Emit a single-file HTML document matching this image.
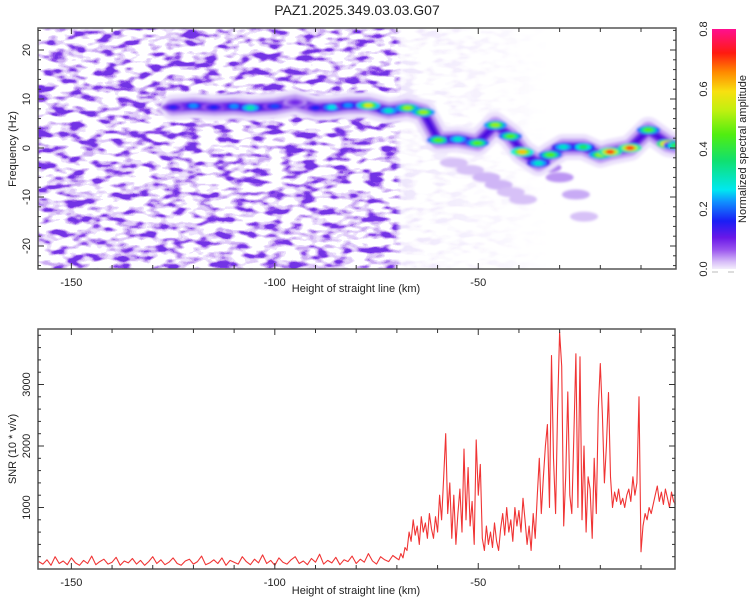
<!DOCTYPE html>
<html><head><meta charset="utf-8"><style>
html,body{margin:0;padding:0;background:#fff;}
svg{display:block;font-family:"Liberation Sans",sans-serif;}
</style></head><body>
<svg id="root" width="750" height="600" viewBox="0 0 750 600">
<defs>
<filter id="noise" x="0" y="0" width="100%" height="100%" color-interpolation-filters="sRGB">
<feTurbulence type="fractalNoise" baseFrequency="0.06 0.13" numOctaves="2" seed="11"/>
<feColorMatrix type="matrix" values="2.2 0 0 0 -0.6  2.2 0 0 0 -0.6  2.2 0 0 0 -0.6  2.2 0 0 0 -0.6"/>
<feComponentTransfer>
<feFuncR type="discrete" tableValues="1 1 1 1 0.93 0.88 0.8 0.68 0.55 0.45"/>
<feFuncG type="discrete" tableValues="1 1 1 1 0.89 0.8 0.68 0.5 0.3 0.2"/>
<feFuncB type="discrete" tableValues="1 1 1 1 0.99 0.98 0.96 0.94 0.92 0.9"/>
<feFuncA type="discrete" tableValues="0 0 0 0 1 1 1 1 1 1"/>
</feComponentTransfer>
</filter>
<linearGradient id="fade" x1="38" x2="676" y1="0" y2="0" gradientUnits="userSpaceOnUse">
<stop offset="0" stop-color="#fff"/><stop offset="0.56" stop-color="#fff"/><stop offset="0.57" stop-color="#fff" stop-opacity="0.12"/><stop offset="0.7" stop-color="#fff" stop-opacity="0.06"/><stop offset="0.8" stop-color="#fff" stop-opacity="0"/>
</linearGradient>
<mask id="fadeMask"><rect x="38" y="28" width="638" height="242" fill="url(#fade)"/></mask>
<filter id="blur" x="-50%" y="-50%" width="200%" height="200%"><feGaussianBlur stdDeviation="1.4"/></filter>
<clipPath id="clipTop"><rect x="38" y="28" width="638" height="241"/></clipPath>
<clipPath id="clipBot"><rect x="38" y="329" width="638" height="240"/></clipPath>
<linearGradient id="cbar" x1="0" x2="0" y1="1" y2="0">
<stop offset="0" stop-color="#f4eefc"/><stop offset="0.03" stop-color="#d7bdf8"/><stop offset="0.08" stop-color="#9a55ee"/><stop offset="0.13" stop-color="#6a18e8"/><stop offset="0.2" stop-color="#1a1ef5"/><stop offset="0.28" stop-color="#1090ff"/><stop offset="0.33" stop-color="#00e8f0"/><stop offset="0.45" stop-color="#10e070"/><stop offset="0.56" stop-color="#50ee10"/><stop offset="0.66" stop-color="#c0f010"/><stop offset="0.74" stop-color="#f8e010"/><stop offset="0.82" stop-color="#ff8a00"/><stop offset="0.9" stop-color="#ff1a10"/><stop offset="1" stop-color="#ff0f90"/>
</linearGradient>
</defs>
<text x="357" y="15" text-anchor="middle" font-size="14" fill="#222">PAZ1.2025.349.03.03.G07</text>

<g id="topPlot">
<g clip-path="url(#clipTop)">
<rect x="38" y="28" width="638" height="242" filter="url(#noise)" mask="url(#fadeMask)"/>
<g id="ridge" filter="url(#blur)"></g>
</g>
<rect x="38" y="28" width="638" height="241" fill="none" stroke="#555" stroke-width="1.5"/>
<g id="topAxes"></g>
<text x="356" y="292" text-anchor="middle" font-size="11" fill="#222">Height of straight line (km)</text>
<text transform="translate(16,149) rotate(-90)" text-anchor="middle" font-size="11" fill="#222">Frequency (Hz)</text>
</g>

<g>
<rect x="712" y="29" width="24" height="240" fill="url(#cbar)"/>
<line x1="712" y1="272" x2="718" y2="272" stroke="#bbb" stroke-width="1"/>
<line x1="728" y1="272" x2="734" y2="272" stroke="#bbb" stroke-width="1"/>
<g id="cbTicks"></g>
<text transform="translate(746,149) rotate(-90)" text-anchor="middle" font-size="11" fill="#222">Normalized spectral amplitude</text>
</g>

<g id="botPlot">
<g clip-path="url(#clipBot)"><path id="snrLine" fill="none" stroke="#f03434" stroke-width="1.1" stroke-linejoin="round"/></g>
<rect x="38" y="329" width="637" height="240" fill="none" stroke="#555" stroke-width="1.5"/>
<g id="botAxes"></g>
<text x="356" y="594" text-anchor="middle" font-size="11" fill="#222">Height of straight line (km)</text>
<text transform="translate(16,449) rotate(-90)" text-anchor="middle" font-size="11" fill="#222">SNR (10 * v/v)</text>
</g>
</svg>
<script>
// ---- data ----
const ridgeKm  = [-125,-120,-115,-110,-106,-100,-95,-90,-86,-82,-77,-72,-67.4,-63.5,-59.8,-55,-50.2,-45.8,-42.1,-39.2,-35.2,-32.3,-29.1,-24.2,-20,-17.6,-12.7,-8.2,-3.3,-1.5];
const ridgeHz  = [8.3,8.6,8.3,8.5,8.2,8.5,9.3,8.2,8.3,8.7,8.7,7.6,8.2,7.3,1.6,1.8,1.0,4.7,2.4,-0.8,-3.1,-1.4,0.2,0.2,-1.4,-0.8,0.0,3.7,0.8,0.5];
const ridgeAmp = [0.15,0.22,0.16,0.22,0.32,0.18,0.1,0.16,0.28,0.22,0.56,0.3,0.5,0.5,0.45,0.3,0.45,0.5,0.45,0.62,0.3,0.45,0.3,0.38,0.5,0.7,0.7,0.45,0.76,0.4];
const tailKm = [-56,-52,-48,-45,-42,-39,-33,-30,-26,-24];
const tailHz = [-3,-4.5,-6,-7.5,-9,-10.5,-4,-6,-9.5,-14];
const tailAmp = [0.02,0.02,0.025,0.025,0.02,0.02,0.05,0.04,0.03,0.02];
const xTickVals = [-150,-100,-50];
const freqTickVals = [-20,-10,0,10,20];
const snrTickVals = [1000,2000,3000];
const cbTickVals = [0.0,0.2,0.4,0.6,0.8];
const snrQuietStart = -158, snrQuietStep = 1;
const snrQuiet = [120,80,150,60,200,90,130,70,180,100,60,140,90,210,70,120,160,80,110,190,60,130,100,170,80,140,60,120,200,90,150,70,110,180,90,60,130,160,80,120,210,70,100,150,90,180,60,140,110,80,200,120,70,160,100,230,90,140,60,180,110,80,150,200,90,130,70,170,110,240,80,140,100,190,70,150,120,210,90,160,110,250,130,80,200,150,120,220,170];
const snrActiveStart = -69.5, snrActiveStep = 0.5;
const snrActive = [150,250,180,350,300,600,450,800,550,700,400,850,600,750,500,900,650,500,850,600,1200,800,1500,2200,900,1400,500,1200,400,900,1300,600,1950,800,1650,700,1100,400,2100,1200,1700,500,300,700,400,600,350,750,450,300,650,900,550,1000,600,800,450,1000,700,950,600,1150,800,400,700,300,900,500,1200,1800,900,1500,2000,2350,1000,3470,1800,900,2600,3850,3300,700,1500,2880,1200,900,2200,3500,1000,3450,800,2000,600,1500,1300,500,1800,900,2600,3340,2500,1400,2000,2870,1500,1000,1250,1100,1300,1050,1150,1000,1200,1300,1100,1500,1200,1400,2800,280,700,900,800,1000,900,1050,1200,1350,1100,1250,1050,1300,1150,1000,1250,1100,1050];

// ---- scales ----
const X0=38, X1=676, KM0=-158.2, KM1=-1.4;
const xs = km => X0 + (km-KM0)/(KM1-KM0)*(X1-X0);
const yHz = hz => 148 - hz*4.9;
const ySnr = v => 569 - v*0.0615;
const yCb = a => 269 - a/0.8*240;
const NS='http://www.w3.org/2000/svg';
function mk(tag, attrs, parent){const e=document.createElementNS(NS,tag);for(const k in attrs)e.setAttribute(k,attrs[k]);parent.appendChild(e);return e;}

const stops=[[0,[244,238,252]],[0.03,[200,170,245]],[0.07,[150,85,236]],[0.11,[100,25,232]],[0.16,[25,35,245]],[0.22,[16,144,255]],[0.27,[0,232,240]],[0.36,[16,224,112]],[0.45,[80,238,16]],[0.53,[192,240,16]],[0.6,[248,224,16]],[0.66,[255,138,0]],[0.72,[255,26,16]],[0.8,[255,15,144]]];
function cmap(a){a=Math.max(0,Math.min(0.8,a));for(let i=1;i<stops.length;i++){if(a<=stops[i][0]){const t=(a-stops[i-1][0])/(stops[i][0]-stops[i-1][0]);const c=stops[i-1][1].map((v,j)=>Math.round(v+(stops[i][1][j]-v)*t));return `rgb(${c})`;}}return 'rgb(255,15,144)';}

// ---- spectrogram ridge ----
const ridge=document.getElementById('ridge');
for(let i=0;i<tailKm.length;i++){
  const e=mk('ellipse',{cx:xs(tailKm[i]),cy:yHz(tailHz[i]),rx:14,ry:5,fill:cmap(tailAmp[i])},ridge);
  
  
}
const pts=ridgeKm.map((k,i)=>xs(k)+','+yHz(ridgeHz[i])).join(' ');
const layers=[[26,'#ece2fc'],[17,'#c3a0f4'],[10,'#7a34e6'],[5,'#4a10e0']];
layers.forEach(l=>{
  const p=mk('polyline',{points:pts,fill:'none',stroke:l[1],'stroke-width':l[0],'stroke-linejoin':'round','stroke-linecap':'round'},ridge);
  
  
});
for(let i=0;i<ridgeKm.length;i++){
  const cx=xs(ridgeKm[i]), cy=yHz(ridgeHz[i]), a=ridgeAmp[i];
  mk('ellipse',{cx,cy,rx:12,ry:4.5,fill:cmap(a*0.45)},ridge);
  mk('ellipse',{cx,cy,rx:8,ry:3.4,fill:cmap(a*0.75)},ridge);
  const c=mk('ellipse',{cx,cy,rx:4.5,ry:2.3,fill:cmap(a)},ridge);
  
  
}

// ---- axes ----
function xAxis(g, yTop, yBot, labelY){
  for(let k=-150;k<=-10;k+=10){
    const x=xs(k), major=(k%50===0), len=major?6:4;
    mk('line',{x1:x,y1:yBot,x2:x,y2:yBot-len,stroke:'#333','stroke-width':1},g);
    mk('line',{x1:x,y1:yTop,x2:x,y2:yTop+len,stroke:'#333','stroke-width':1},g);
  }
  xTickVals.forEach(k=>{
    const t=mk('text',{x:xs(k),y:labelY,'text-anchor':'middle','font-size':11,fill:'#222'},g);
    t.textContent=k;
    
    
  });
}
const ta=document.getElementById('topAxes');
xAxis(ta,28,269,286);
for(let h=-24;h<=24;h+=2){
  const y=yHz(h), len=(h%10===0)?6:3;
  mk('line',{x1:38,y1:y,x2:38+len,y2:y,stroke:'#333','stroke-width':1},ta);
  mk('line',{x1:676,y1:y,x2:676-len,y2:y,stroke:'#333','stroke-width':1},ta);
}
freqTickVals.forEach(h=>{
  const t=mk('text',{transform:`translate(30,${yHz(h)}) rotate(-90)`,'text-anchor':'middle','font-size':11,fill:'#222'},ta);
  t.textContent=h;
  
  
});
const ba=document.getElementById('botAxes');
xAxis(ba,329,569,586);
for(let v=200;v<=3800;v+=200){
  const y=ySnr(v), len=(v%1000===0)?6:3;
  mk('line',{x1:38,y1:y,x2:38+len,y2:y,stroke:'#333','stroke-width':1},ba);
  mk('line',{x1:675,y1:y,x2:675-len,y2:y,stroke:'#333','stroke-width':1},ba);
}
snrTickVals.forEach(v=>{
  const t=mk('text',{transform:`translate(30,${ySnr(v)}) rotate(-90)`,'text-anchor':'middle','font-size':11,fill:'#222'},ba);
  t.textContent=v;
  
  
});
const cb=document.getElementById('cbTicks');
cbTickVals.forEach(a=>{
  const t=mk('text',{transform:`translate(707,${yCb(a)}) rotate(-90)`,'text-anchor':'middle','font-size':11,fill:'#222'},cb);
  t.textContent=a.toFixed(1);
  
  
});

// ---- SNR line ----
let d='';
snrQuiet.forEach((v,i)=>{d+=(i?'L':'M')+xs(snrQuietStart+i*snrQuietStep).toFixed(1)+','+ySnr(v).toFixed(1);});
snrActive.forEach((v,i)=>{d+='L'+xs(snrActiveStart+i*snrActiveStep).toFixed(1)+','+ySnr(v).toFixed(1);});
document.getElementById('snrLine').setAttribute('d',d);
</script>
</body></html>
